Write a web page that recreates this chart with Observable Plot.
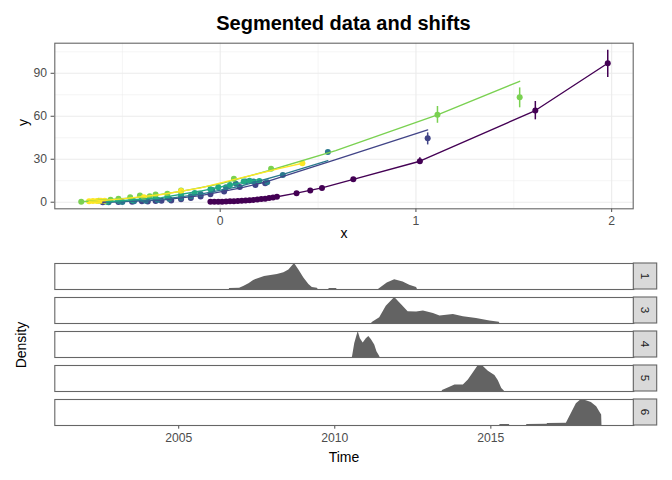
<!DOCTYPE html>
<html><head><meta charset="utf-8">
<script src="https://cdn.jsdelivr.net/npm/d3@7"></script>
<script src="https://cdn.jsdelivr.net/npm/@observablehq/plot@0.6"></script>
<style>
body{margin:0;background:#fff;}
#wrap{position:relative;width:672px;height:480px;overflow:hidden;background:#fff;font-family:"Liberation Sans",Arial,sans-serif;color:#000;}
.abs{position:absolute;white-space:nowrap;}
</style></head><body>
<div id="wrap">
<div class="abs" style="left:54px;width:579px;top:13px;font-size:20px;line-height:20px;font-weight:bold;text-align:center;">Segmented data and shifts</div>
<div class="abs" id="top" style="left:0;top:34px"></div>
<div class="abs" id="bottom" style="left:0;top:250px"></div>
<div class="abs" style="left:244px;width:200px;top:450px;font-size:14px;line-height:14px;text-align:center;">Time</div>
<div class="abs" style="left:-79px;width:200px;top:337.5px;font-size:14px;line-height:14px;text-align:center;transform:rotate(-90deg);">Density</div>
</div>
<script>
// ---------- top panel data ----------
const groups = ["1","2","3","4","5","6"];
const colors = ["#440154","#414487","#2A788E","#22A884","#7AD151","#FDE725"];
const xMajor = [0, 1, 2];
const xMinor = [-0.5, 0.5, 1.5];
const yMajor = [0, 30, 60, 90];
const yMinor = [15, 45, 75, 105];

// points per group
const x1 = [-0.05,-0.03,-0.01,0.01,0.03,0.05,0.07,0.09,0.11,0.13,0.15,0.17,0.19,0.21,0.23,0.25,0.27,0.29,0.39,0.46,0.52,0.68,1.02,1.61,1.98];
const y1 = [0.3,0.3,0.4,0.4,0.5,0.6,0.7,0.9,1.0,1.2,1.4,1.6,1.9,2.2,2.5,2.9,3.3,3.8,6.3,8.2,10,16,28.6,64,97];
const x2 = [-0.6,-0.52,-0.45,-0.4,-0.37,-0.33,-0.3,-0.25,-0.2,-0.15,-0.1,-0.05,0.02,0.1,0.18,0.23,1.06];
const y2 = [0,0.2,0.4,0.6,0.5,0.8,1.0,1.2,2.0,3.0,4.0,5.5,7.5,10.7,12,13.3,44.7];
const x3 = [-0.57,-0.5,-0.44,-0.38,-0.32,-0.26,-0.2,-0.15,-0.1,-0.04,0.03,0.08,0.13,0.17,0.24,0.32,0.55];
const y3 = [0,0.2,0.6,1.0,1.5,2.2,3.2,4.2,5.8,8.6,10.5,12.8,14.4,14.4,14,19,35];
const x4 = [-0.58,-0.52,-0.45,-0.4,-0.33,-0.27,-0.2,-0.13,-0.05,-0.01,0.05,0.12,0.15,0.2];
const y4 = [0.3,1.0,1.6,2.2,2.8,3.6,5.0,6.5,9.0,10.5,12,14.5,15,14.8];
const x5 = [-0.71,-0.62,-0.56,-0.52,-0.46,-0.41,-0.36,-0.33,-0.27,-0.2,0.07,0.26,1.11,1.53];
const y5 = [0.3,1.0,1.8,2.4,3.5,4.7,4.2,5.4,5.9,8.2,16.3,23.3,61,73.3];
const x6 = [-0.67,-0.65,-0.63,-0.61,-0.59,-0.39,-0.2,0.42];
const y6 = [0.6,0.8,0.8,1.0,1.1,3.5,7.8,27.2];

// fitted lines per group
const fx1 = [-0.05,0.1,0.27,0.39,0.52,0.68,1.02,1.61,1.98];
const fy1 = [0.3,0.95,3.3,6.3,10,16,28.6,64,97];
const fx2 = [-0.6,-0.3,-0.1,0.1,0.23,0.59,1.06];
const fy2 = [0,1.5,4.6,9.8,14,29.8,50.5];
const fx3 = [-0.57,-0.3,-0.1,0.1,0.32,0.55];
const fy3 = [0.1,2.0,5.6,11,19.5,29];
const fx4 = [-0.58,-0.3,-0.1,0.05,0.2];
const fy4 = [0.3,3.2,7.8,12,16];
const fx5 = [-0.71,-0.4,-0.2,0,0.26,0.59,1.11,1.53];
const fy5 = [0.3,3.6,7.6,12.8,22.5,36,61,84.4];
const fx6 = [-0.67,-0.5,-0.3,-0.1,0.1,0.3,0.42];
const fy6 = [0.6,2.3,5.4,10,16.8,23.4,27.2];

// error bars
const ebGroup = ["1","1","1","1","2","5","5"];
const ebX  = [0.68,1.02,1.61,1.98,1.06,1.11,1.53];
const ebLo = [14.8,26.3,57.5,87,40,55.1,65.9];
const ebHi = [17.2,31,70.3,106,48.4,66.8,79.8];

// ---------- bottom panel data ----------
const panels = ["1","3","4","5","6"];
const timeTicks = [2005, 2010, 2015];
const p1t = [2006.62,2006.63,2006.95,2007.08,2007.25,2007.4,2007.75,2008.16,2008.37,2008.53,2008.71,2008.85,2009.01,2009.17,2009.28,2009.44,2009.47,2009.8,2009.83,2010.05,2010.08,2011.4,2011.42,2011.68,2011.92,2012.19,2012.4,2012.62,2012.65];
const p1d = [0,0.04,0.05,0.12,0.22,0.35,0.5,0.58,0.64,0.75,1.0,0.75,0.44,0.19,0.08,0.05,0,0,0.04,0.04,0,0,0.02,0.25,0.375,0.29,0.16,0.08,0];
const p3t = [2011.18,2011.2,2011.44,2011.65,2011.92,2012.14,2012.35,2012.62,2012.84,2013.16,2013.37,2013.8,2014.12,2014.54,2014.97,2015.27,2015.29];
const p3d = [0,0.04,0.22,0.66,1.0,0.72,0.45,0.44,0.48,0.38,0.29,0.35,0.26,0.19,0.1,0.05,0];
const p4t = [2010.56,2010.57,2010.64,2010.75,2010.82,2010.91,2011.01,2011.09,2011.17,2011.28,2011.35,2011.44,2011.45];
const p4d = [0,0.04,0.54,1.0,0.72,0.56,0.72,0.81,0.69,0.48,0.22,0.04,0];
const p5t = [2013.44,2013.45,2013.69,2013.85,2014.12,2014.28,2014.44,2014.6,2014.76,2014.92,2015.13,2015.24,2015.35,2015.43,2015.44];
const p5d = [0,0.04,0.16,0.25,0.25,0.44,0.72,1.0,0.96,0.78,0.62,0.41,0.12,0.02,0];
const p6t = [2015.28,2015.3,2015.59,2015.61,2016.14,2016.16,2016.8,2016.82,2017.42,2017.58,2017.74,2017.9,2018.06,2018.22,2018.39,2018.5,2018.55,2018.56];
const p6d = [0,0.04,0.04,0,0,0.04,0.05,0.08,0.09,0.46,0.84,1.0,0.95,0.88,0.72,0.5,0.4,0];

// ---------- build tables ----------
const PX = [x1,x2,x3,x4,x5,x6], PY = [y1,y2,y3,y4,y5,y6];
const FX = [fx1,fx2,fx3,fx4,fx5,fx6], FY = [fy1,fy2,fy3,fy4,fy5,fy6];
const points = groups.flatMap((g,i) => PX[i].map((x,j) => ({g, x, y: PY[i][j]})));
const fits = groups.flatMap((g,i) => FX[i].map((x,j) => ({g, x, y: FY[i][j]})));
const bars = ebX.map((x,i) => ({g: ebGroup[i], x, lo: ebLo[i], hi: ebHi[i]}));
const DT = [p1t,p3t,p4t,p5t,p6t], DD = [p1d,p3d,p4d,p5d,p6d];
const dens = panels.flatMap((p,i) => DT[i].map((t,j) => ({panel: p, t, d: DD[i][j]})));

const baseStyle = {fontFamily: "Liberation Sans, Arial, sans-serif", fontSize: "12.2px", color: "#4D4D4D", background: "transparent", overflow: "visible"};

const topPlot = Plot.plot({
  width: 672, height: 216,
  marginTop: 8.7, marginRight: 39.3, marginBottom: 41.7, marginLeft: 54.3,
  x: {domain: [-0.845, 2.11], ticks: xMajor, tickFormat: d => String(d), tickSize: 3.7, tickPadding: 4, label: null},
  y: {domain: [-4.6, 111], ticks: yMajor, tickFormat: d => String(d), tickSize: 3.7, tickPadding: 4, label: null},
  color: {domain: groups, range: colors},
  style: baseStyle,
  marks: [
    Plot.ruleX(xMinor, {stroke: "#EBEBEB", strokeWidth: 0.55}),
    Plot.ruleY(yMinor, {stroke: "#EBEBEB", strokeWidth: 0.55}),
    Plot.ruleX(xMajor, {stroke: "#EBEBEB", strokeWidth: 1.1}),
    Plot.ruleY(yMajor, {stroke: "#EBEBEB", strokeWidth: 1.1}),
    Plot.ruleX(bars, {x: "x", y1: "lo", y2: "hi", stroke: "g", strokeWidth: 1.5}),
    Plot.dot(points, {x: "x", y: "y", fill: "g", r: 3}),
    Plot.line(fits, {x: "x", y: "y", z: "g", stroke: "g", strokeWidth: 1.35}),
    Plot.frame({stroke: "#666666", strokeWidth: 1.1}),
    Plot.text(["x"], {text: d => d, frameAnchor: "bottom", dy: 29, fontSize: 14, fill: "#000"}),
    Plot.text(["y"], {text: d => d, frameAnchor: "left", dx: -31, rotate: -90, fontSize: 14, fill: "#000"})
  ]
});
document.getElementById("top").appendChild(topPlot);

const bottomPlot = Plot.plot({
  width: 672, height: 230,
  marginTop: 11.7, marginRight: 38.7, marginBottom: 52.7, marginLeft: 54.3,
  x: {domain: [2001.03, 2019.58], ticks: timeTicks, tickFormat: d => String(d), tickSize: 3.7, tickPadding: 4, label: null},
  y: {domain: [0, 1], axis: null},
  fy: {domain: panels, paddingInner: 0.232, paddingOuter: 0, axis: null, label: null},
  facet: {data: dens, y: "panel"},
  style: baseStyle,
  marks: [
    Plot.areaY(dens, {x: "t", y: "d", fill: "#636363", curve: "linear"}),
    Plot.frame({stroke: "#666666", strokeWidth: 1.1})
  ]
});
document.getElementById("bottom").appendChild(bottomPlot);

// facet strips on the right
const fyS = bottomPlot.scale("fy");
const xS = bottomPlot.scale("x");
const xRight = Math.max(...xS.range);
const bw = fyS.bandwidth;
const posY = k => {
  if (typeof fyS.apply === "function") return fyS.apply(k);
  const r0 = Math.min(...fyS.range);
  return r0 + (fyS.paddingOuter || 0) * fyS.step + fyS.domain.indexOf(k) * fyS.step;
};
const strips = d3.select(bottomPlot).append("g");
panels.forEach(k => {
  const y0 = posY(k);
  strips.append("rect").attr("x", xRight).attr("y", y0).attr("width", 23.4).attr("height", bw)
    .attr("fill", "#D9D9D9").attr("stroke", "#666666").attr("stroke-width", 1.1);
  strips.append("text").attr("transform", `translate(${xRight + 11.7},${y0 + bw / 2}) rotate(90)`)
    .attr("text-anchor", "middle").attr("dy", "0.35em").attr("fill", "#1A1A1A")
    .style("font-size", "11.7px").text(k);
});
</script>
</body></html>
